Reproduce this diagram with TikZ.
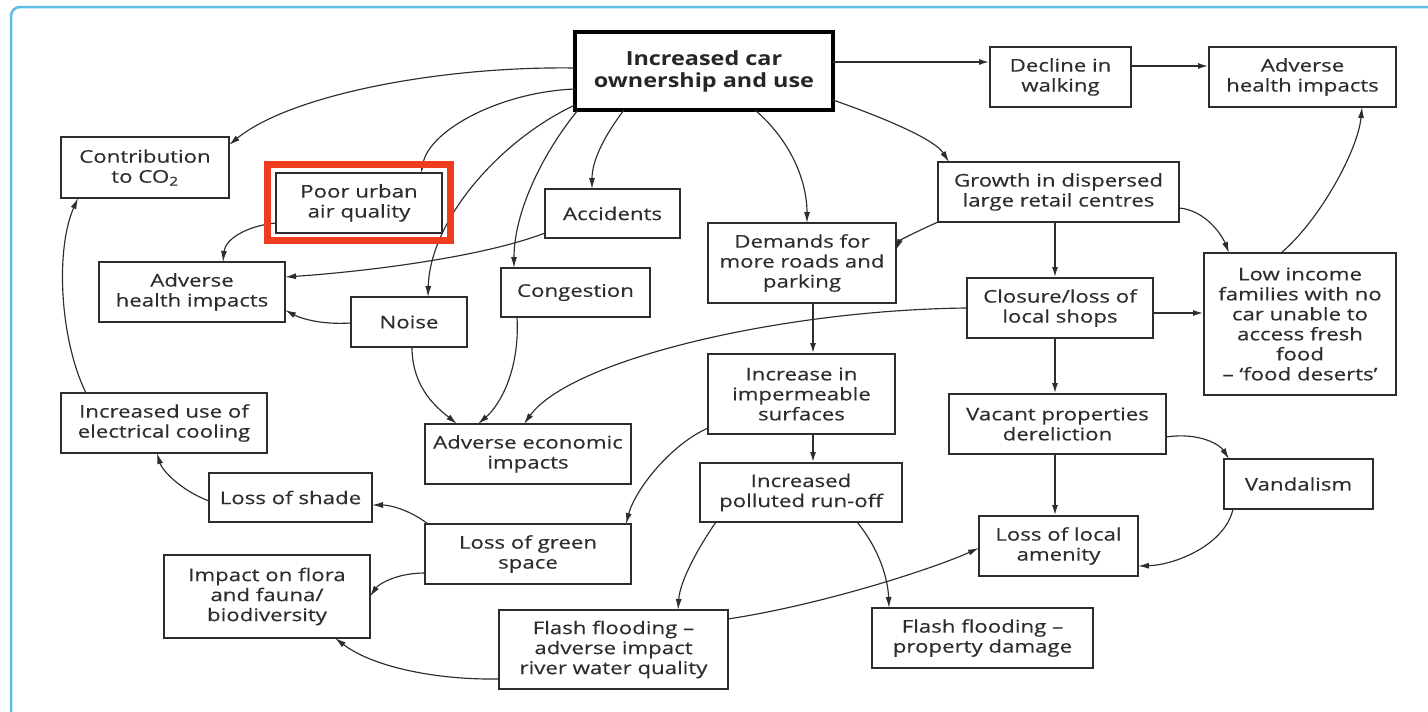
\documentclass[tikz,border=0pt]{standalone}
\usepackage{fontspec}
\setmainfont{Open Sans}[FakeStretch=1.27,FakeBold=0.3]
\newfontfamily\mainboldfont{Open Sans}[FakeStretch=1.2]
\usetikzlibrary{arrows.meta,calc}
\definecolor{framecol}{RGB}{95,190,230}
\definecolor{ink}{RGB}{45,45,45}
\definecolor{hl}{RGB}{240,60,30}
\begin{document}
\begin{tikzpicture}[x=1pt,y=-1pt,
  font=\fontsize{17.5}{20}\selectfont,
  box/.style={draw=ink, line width=1.3pt, fill=white, align=center, inner sep=0pt, outer sep=0pt, text=ink},
  conn/.style={draw=ink, line width=1.15pt, -{Latex[length=11pt,width=6pt]}},
  thickconn/.style={conn, line width=2pt}]
\useasboundingbox (0,0) rectangle (1428,712);
\clip (0,0) rectangle (1428,712);
\fill[white] (0,0) rectangle (1428,712);
\draw[framecol, line width=2.5pt, rounded corners=9pt] (11,7) rectangle (1460,760);

% nodes
\node[box, draw=black, line width=4pt, minimum width=258pt, minimum height=78pt, font=\mainboldfont\fontsize{19.5}{22}\selectfont\bfseries, text=black!85] (main) at (704,71) {Increased car\\ownership and use};
\node[box, minimum width=141pt, minimum height=60pt] (decline) at (1060.5,77) {Decline in\\walking};
\node[box, minimum width=187pt, minimum height=60pt] (adverseR) at (1302.5,77) {Adverse\\health impacts};
\node[box, minimum width=168pt, minimum height=61pt] (contrib) at (145,167.5) {Contribution\\to CO\textsubscript{2}};
\node[box, minimum width=166pt, minimum height=60pt] (poor) at (359,203) {Poor urban\\air quality};
\node[box, minimum width=135pt, minimum height=49pt] (accidents) at (612.5,213.5) {Accidents};
\node[box, minimum width=186pt, minimum height=60pt] (adverseL) at (192,292) {Adverse\\health impacts};
\node[box, minimum width=116pt, minimum height=50pt] (noise) at (409,322) {Noise};
\node[box, minimum width=149pt, minimum height=49pt] (congestion) at (575.5,292.5) {Congestion};
\node[box, minimum width=188pt, minimum height=80pt] (demands) at (802,263) {Demands for\\more roads and\\parking};
\node[box, minimum width=241pt, minimum height=60pt] (growth) at (1058.5,192) {Growth in dispersed\\large retail centres};
\node[box, minimum width=186pt, minimum height=60pt] (closure) at (1060,308) {Closure/loss of\\local shops};
\node[box, minimum width=192pt, minimum height=142pt] (lowinc) at (1300,324) {Low income\\families with no\\car unable to\\access fresh\\food\\– ‘food deserts’};
\node[box, minimum width=187pt, minimum height=80pt] (imperm) at (801.5,394) {Increase in\\impermeable\\surfaces};
\node[box, minimum width=206pt, minimum height=60pt] (cooling) at (164,423) {Increased use of\\electrical cooling};
\node[box, minimum width=206pt, minimum height=60pt] (econ) at (528,454) {Adverse economic\\impacts};
\node[box, minimum width=217pt, minimum height=60pt] (vacant) at (1057.5,424) {Vacant properties\\dereliction};
\node[box, minimum width=149pt, minimum height=50pt] (vandal) at (1298.5,484) {Vandalism};
\node[box, minimum width=202pt, minimum height=59pt] (runoff) at (801,492.5) {Increased\\polluted run-off};
\node[box, minimum width=163pt, minimum height=49pt] (shade) at (290.5,497.5) {Loss of shade};
\node[box, minimum width=206pt, minimum height=60pt] (green) at (528,554) {Loss of green\\space};
\node[box, minimum width=159pt, minimum height=60pt] (amenity) at (1058.5,546) {Loss of local\\amenity};
\node[box, minimum width=206pt, minimum height=83pt] (flora) at (267,596.5) {Impact on flora\\and fauna/\\biodiversity};
\node[box, minimum width=229pt, minimum height=79pt] (flashR) at (613.5,649.5) {Flash flooding –\\adverse impact\\river water quality};
\node[box, minimum width=221pt, minimum height=60pt] (flashP) at (982.5,638) {Flash flooding –\\property damage};

% thick straight connectors
\coordinate (h1) at ($(main.east)+(0,-9)$);
\draw[thickconn] (h1) -- (h1 -| decline.west);
\coordinate (h2) at ($(decline.east)+(0,-11)$);
\draw[thickconn] (h2) -- (h2 -| adverseR.west);
\coordinate (h3) at ($(closure.east)+(0,5)$);
\draw[thickconn] (h3) -- (h3 -| lowinc.west);
\coordinate (v1) at ($(growth.south)+(-3.5,0)$);
\draw[thickconn] (v1) -- (v1 |- closure.north);
\coordinate (v2) at ($(closure.south)+(-5,0)$);
\draw[thickconn] (v2) -- (v2 |- vacant.north);
\coordinate (v3) at ($(vacant.south)+(-2.5,0)$);
\draw[thickconn] (v3) -- (v3 |- amenity.north);
\coordinate (v4) at ($(demands.south)+(11,0)$);
\draw[thickconn] (v4) -- (v4 |- imperm.north);
\coordinate (v5) at ($(imperm.south)+(11.5,0)$);
\draw[thickconn] (v5) -- (v5 |- runoff.north);

% curved connectors
\draw[conn] ($(main.west)+(0,-3)$) .. controls (440,66) and (290,95) .. ($(contrib.north east)+(0,8)$);
\draw[conn] ($(main.west)+(0,18)$) .. controls (500,92) and (430,130) .. ($(poor.north)+(62,0)$);
\draw[conn] ($(main.west)+(0,34)$) .. controls (500,140) and (430,220) .. ($(noise.north)+(19,0)$);
\draw[conn] ($(main.south west)+(3,0)$) .. controls (545,150) and (514,210) .. ($(congestion.north)+(-61.5,0)$);
\draw[conn] ($(main.south)+(-80,0)$) .. controls (605,135) and (592,160) .. ($(accidents.north)+(-20.5,0)$);
\draw[conn] ($(main.south)+(51,0)$) .. controls (790,140) and (807,180) .. ($(demands.north)+(5,0)$);
\draw[conn] ($(main.east)+(0,29)$) .. controls (890,120) and (935,140) .. ($(growth.north west)+(11,0)$);
\draw[conn] (growth.south west) .. controls (920,230) and (900,240) .. ($(demands.east)+(0,-13)$);
\draw[conn] ($(growth.east)+(0,16)$) .. controls (1205,210) and (1222,235) .. ($(lowinc.north)+(-71,0)$);
\draw[conn] ($(lowinc.north)+(-19,0)$) .. controls (1320,220) and (1358,150) .. ($(adverseR.south)+(59.5,0)$);
\draw[conn] (closure.west) .. controls (780,310) and (570,360) .. ($(econ.north)+(-4,0)$);
\draw[conn] ($(poor.west)+(0,20)$) .. controls (245,226) and (225,240) .. ($(adverseL.north)+(31,0)$);
\draw[conn] ($(accidents.south west)+(0,-5)$) .. controls (480,258) and (360,272) .. ($(adverseL.east)+(0,-15)$);
\draw[conn] ($(noise.west)+(0,1)$) .. controls (320,325) and (300,318) .. ($(adverseL.east)+(0,18)$);
\draw[conn] ($(noise.south)+(3,0)$) .. controls (412,390) and (440,410) .. ($(econ.north)+(-71,0)$);
\draw[conn] ($(congestion.south)+(-58.5,0)$) .. controls (520,370) and (500,405) .. ($(econ.north)+(-50,0)$);
\draw[conn] ($(imperm.south west)+(0,-6)$) .. controls (670,445) and (635,490) .. ($(green.north east)+(-5,0)$);
\draw[conn] ($(runoff.south west)+(16,0)$) .. controls (700,545) and (680,580) .. ($(flashR.north)+(64.5,0)$);
\draw[conn] ($(runoff.south)+(56,0)$) .. controls (880,550) and (888,580) .. ($(flashP.north)+(-93.5,0)$);
\draw[conn] ($(flashR.east)+(0,-30.5)$) .. controls (820,605) and (930,570) .. ($(amenity.west)+(0,2)$);
\draw[conn] ($(flashR.west)+(0,29.5)$) .. controls (430,680) and (370,665) .. ($(flora.south)+(68,0)$);
\draw[conn] ($(green.north west)+(3,0)$) .. controls (410,510) and (390,505) .. ($(shade.east)+(0,7.5)$);
\draw[conn] ($(green.west)+(0,19)$) .. controls (395,573) and (378,585) .. (flora.east);
\draw[conn] ($(shade.west)+(0,3.5)$) .. controls (180,490) and (162,470) .. ($(cooling.south)+(-7,0)$);
\draw[conn] ($(cooling.north west)+(25,0)$) .. controls (60,340) and (55,250) .. ($(contrib.south west)+(17,0)$);
\draw[conn] ($(vacant.east)+(0,13)$) .. controls (1200,432) and (1220,445) .. ($(vandal.north west)+(5,0)$);
\draw[conn] ($(vandal.south west)+(9,0)$) .. controls (1225,545) and (1175,565) .. ($(amenity.east)+(0,20)$);

% highlight
\draw[hl, line width=6.5pt] ($(poor.south west)+(-8.5,7.5)$) rectangle ($(poor.north east)+(8.5,-8.5)$);
\end{tikzpicture}
\end{document}
